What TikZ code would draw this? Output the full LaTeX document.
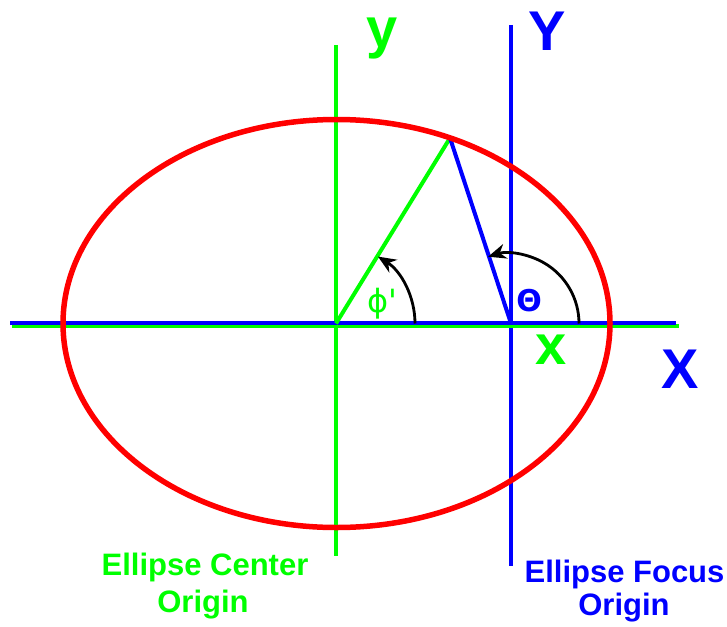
\documentclass[tikz,border=0pt]{standalone}
\usepackage{fontspec}
\setmainfont{Liberation Sans}
\newfontfamily\symfont{DejaVu Sans}
\usetikzlibrary{arrows.meta,calc}
\definecolor{pgreen}{RGB}{0,255,0}
\definecolor{pblue}{RGB}{0,0,255}
\definecolor{pred}{RGB}{255,0,0}
\tikzset{
  greenaxis/.style={draw=pgreen,line width=4.5pt},
  blueaxis/.style={draw=pblue,line width=4.5pt},
  anglearrow/.style={draw=black,line width=2.8pt,-{Stealth[length=18pt,width=15pt]}},
  bigletter/.style={font=\fontsize{56}{60}\selectfont\bfseries,anchor=base,inner sep=0pt},
  caption/.style={font=\fontsize{31}{36}\selectfont\bfseries,anchor=base,inner sep=0pt},
}
\begin{document}
\begin{tikzpicture}[x=1pt,y=-1pt]
\useasboundingbox (0,0) rectangle (727,626);
% named points
\coordinate (C) at (336,323.5);
\coordinate (F) at (511,323.5);
\coordinate (P) at (450,138);
\coordinate (gTop) at (336,45);
\coordinate (gBot) at (336,556);
\coordinate (bTop) at (511,25);
\coordinate (bBot) at (511,566);
\coordinate (gL) at (12,325.8);
\coordinate (gR) at (679,325.8);
\coordinate (bL) at (10,323);
\coordinate (bR) at (676,323);
% vertical axes
\draw[greenaxis] (gTop) -- (gBot);
\draw[blueaxis] (bTop) -- (bBot);
% horizontal axes
\draw[greenaxis] (gL) -- (gR);
\draw[blueaxis] (bL) -- (bR);
% radius lines
\draw[greenaxis,line width=4pt] (C) -- (P);
\draw[blueaxis,line width=4pt] (F) -- (P);
% ellipse
\draw[pred,line width=5.5pt] (336.5,323.5) ellipse[x radius=273.5,y radius=204];
% angle arrows
\draw[anglearrow] ($(C)+(79,0)$) arc[start angle=0,end angle=-57.9,radius=79];
\draw[anglearrow] ($(F)+(68,0)$) arc[start angle=0,end angle=-107.4,radius=70];
% labels
\node[bigletter,text=pgreen] (ly) at (382,48) {y};
\node[bigletter,text=pblue] (lY) at (547,50) {Y};
\node[bigletter,text=pgreen] (lx) at (551,364) {x};
\node[bigletter,text=pblue] (lX) at (680,388) {X};
\node[text=pgreen,font=\symfont\fontsize{32}{34}\selectfont,anchor=base,inner sep=0pt] (phi) at (382,312) {ϕ'};
\node[text=pblue,font=\symfont\bfseries\fontsize{30}{32}\selectfont,anchor=base,inner sep=0pt] (theta) at (529,311) {Θ};
\node[caption,text=pgreen] (gc1) at (205,575) {Ellipse Center};
\node[caption,text=pgreen] (gc2) at (203,612) {Origin};
\node[caption,text=pblue] (bc1) at (624.5,582) {Ellipse Focus};
\node[caption,text=pblue] (bc2) at (624,615) {Origin};
\end{tikzpicture}
\end{document}
